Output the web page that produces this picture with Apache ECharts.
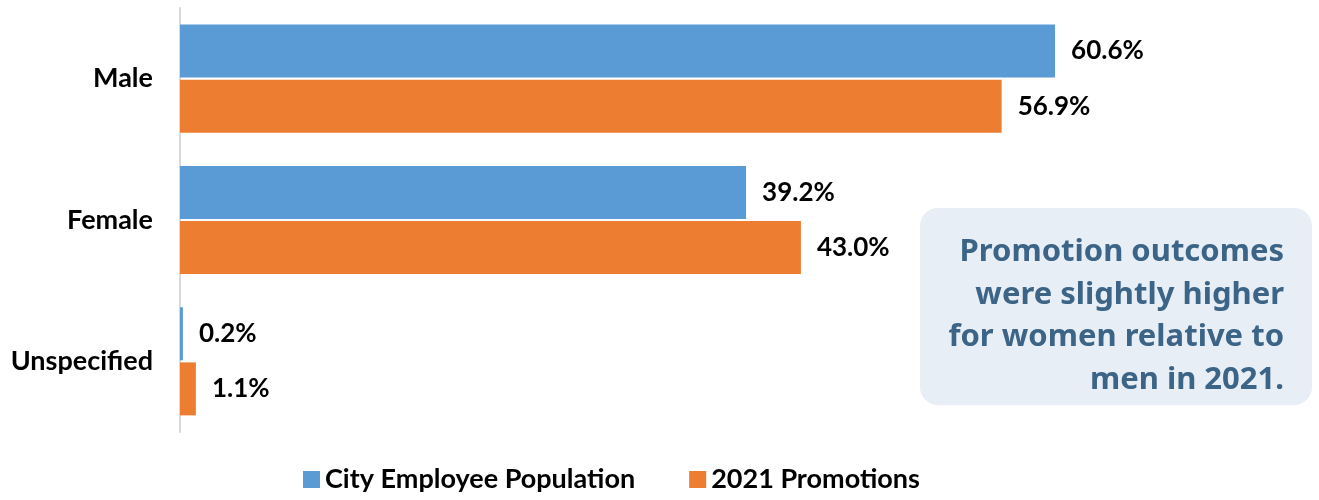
<!DOCTYPE html>
<html><head><meta charset="utf-8">
<script src="https://cdn.jsdelivr.net/npm/echarts@6/dist/echarts.min.js"></script>
<style>html,body{margin:0;padding:0;background:#fff}#c{width:1319px;height:500px}</style>
</head><body><div id="c"></div>
<script>
const categories = ['Male', 'Female', 'Unspecified'];
const seriesNames = ['City Employee Population', '2021 Promotions'];
const cityPopulation = [60.6, 39.2, 0.2];
const promotions2021 = [56.9, 43.0, 1.1];
const noteLines = ['Promotion outcomes', 'were slightly higher', 'for women relative to', 'men in 2021.'];

const FONT = 'Lato';
const chart = echarts.init(document.getElementById('c'), null, {renderer: 'canvas'});
const labelCfg = {
  show: true, position: 'right', distance: 16,
  formatter: p => p.value.toFixed(1) + '%',
  fontFamily: FONT, fontWeight: 'bold', fontSize: 26, color: '#000'
};
const noteGraphics = noteLines.map((t, i) => ({
  type: 'text', right: 1319 - 1284, top: 237 + i * 42.5, z: 11,
  style: {text: t, fill: '#3c6487', font: 'bold 31px "Noto Sans"'}
}));
chart.setOption({
  animation: false,
  grid: {left: 180, top: 8, width: 1010.8, height: 424, containLabel: false},
  xAxis: {type: 'value', min: 0, max: 70, show: false},
  yAxis: {
    type: 'category', data: categories, inverse: true,
    axisLine: {show: true, lineStyle: {color: '#d9d9d9', width: 2}},
    axisTick: {show: false},
    axisLabel: {margin: 27, fontFamily: FONT, fontWeight: 'bold', fontSize: 27, color: '#000'}
  },
  legend: {
    bottom: 2, left: 298, itemWidth: 17, itemHeight: 17, itemGap: 54,
    icon: 'rect',
    textStyle: {fontFamily: FONT, fontWeight: 'bold', fontSize: 27, color: '#000'},
    data: seriesNames
  },
  series: [
    {name: seriesNames[0], type: 'bar', data: cityPopulation, barWidth: 53, barGap: '4%',
     itemStyle: {color: '#5B9BD5'}, label: labelCfg},
    {name: seriesNames[1], type: 'bar', data: promotions2021, barWidth: 53, barGap: '4%',
     itemStyle: {color: '#ED7D31'}, label: labelCfg}
  ],
  graphic: [
    {type: 'rect', left: 920, top: 208, shape: {width: 392, height: 197, r: 18},
     style: {fill: '#e7eef5'}, z: 10}
  ].concat(noteGraphics)
});
</script></body></html>
